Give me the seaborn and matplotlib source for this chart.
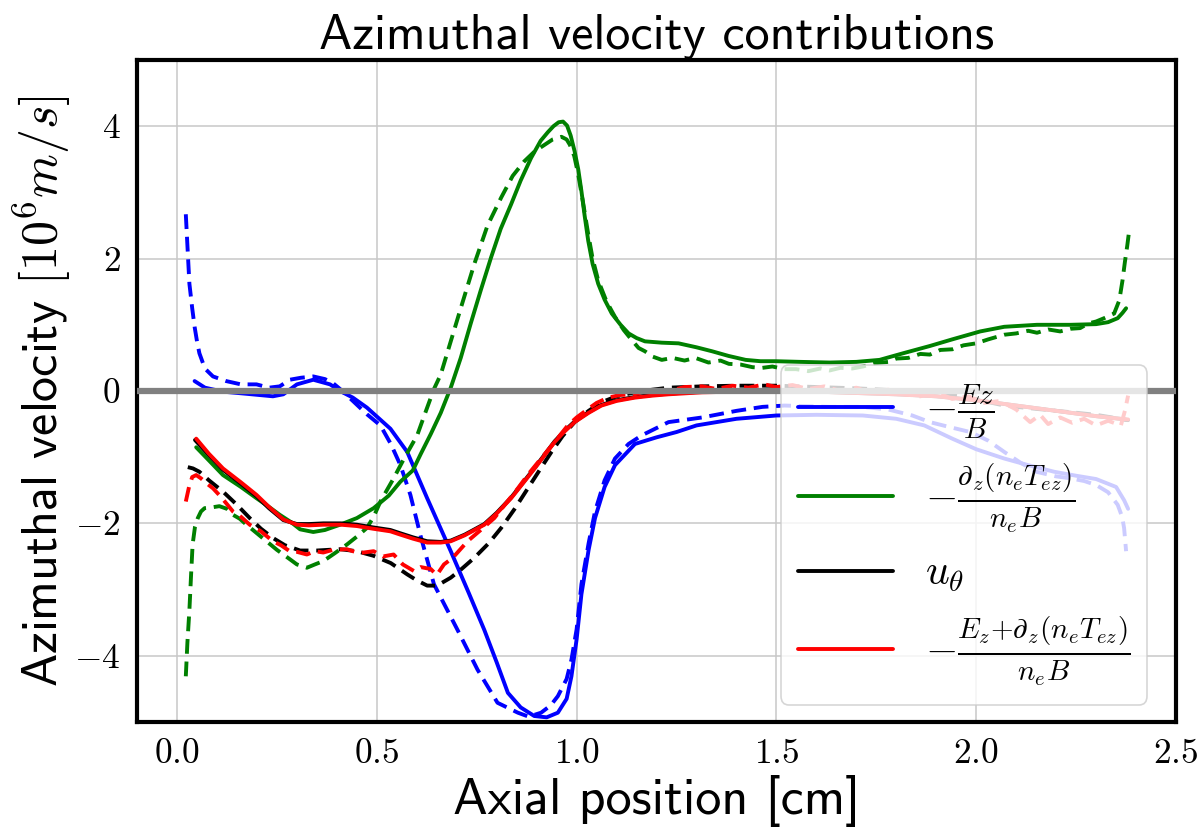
import matplotlib
matplotlib.use("Agg")
import matplotlib.pyplot as plt
from matplotlib.ticker import FuncFormatter
import seaborn as sns
import pandas as pd

# ---- data: azimuthal velocity contributions [1e6 m/s] vs axial position [cm] ----
# -Ez/B (solid)
ez_x = [0.044, 0.07, 0.115, 0.17, 0.24, 0.266, 0.30, 0.341, 0.383, 0.408, 0.44, 0.475, 0.534, 0.576,
        0.626, 0.685, 0.73, 0.769, 0.80, 0.828, 0.86, 0.894, 0.925, 0.953, 0.975, 0.987, 1.0, 1.012,
        1.03, 1.046, 1.07, 1.096, 1.146, 1.20, 1.25, 1.30, 1.40, 1.50, 1.60, 1.716, 1.80, 1.87, 1.94,
        2.00, 2.07, 2.13, 2.195, 2.25, 2.30, 2.35, 2.37, 2.38]
ez_y = [0.15, 0.05, -0.01, -0.04, -0.08, -0.05, 0.10, 0.17, 0.10, 0.0, -0.10, -0.25, -0.57, -0.92,
        -1.62, -2.42, -3.05, -3.61, -4.10, -4.56, -4.78, -4.91, -4.93, -4.86, -4.65, -4.31, -3.75, -3.07,
        -2.40, -1.92, -1.45, -1.12, -0.80, -0.70, -0.62, -0.52, -0.42, -0.37, -0.36, -0.37, -0.42, -0.52,
        -0.72, -0.88, -1.02, -1.12, -1.22, -1.28, -1.33, -1.45, -1.65, -1.78]

# -Ez/B (dashed)
ez_d_x = [0.022, 0.026, 0.031, 0.038, 0.044, 0.05, 0.056, 0.065, 0.073, 0.09, 0.123, 0.16, 0.199, 0.23,
          0.257, 0.282, 0.31, 0.341, 0.37, 0.39, 0.408, 0.44, 0.475, 0.509, 0.535, 0.559, 0.584, 0.61,
          0.643, 0.702, 0.752, 0.802, 0.853, 0.88, 0.911, 0.935, 0.953, 0.975, 0.987, 1.0, 1.012, 1.03,
          1.046, 1.07, 1.096, 1.13, 1.163, 1.23, 1.314, 1.40, 1.465, 1.52, 1.633, 1.716, 1.78, 1.84,
          1.884, 1.93, 1.985, 2.03, 2.07, 2.11, 2.15, 2.20, 2.236, 2.27, 2.30, 2.33, 2.354, 2.365, 2.37,
          2.375]
ez_d_y = [2.67, 2.2, 1.62, 1.25, 0.97, 0.75, 0.57, 0.42, 0.32, 0.22, 0.15, 0.10, 0.10, 0.05,
          0.07, 0.17, 0.20, 0.22, 0.18, 0.12, 0.03, -0.15, -0.35, -0.52, -0.80, -1.12, -1.57, -2.20,
          -2.92, -3.61, -4.21, -4.71, -4.86, -4.92, -4.86, -4.75, -4.61, -4.35, -4.06, -3.60, -2.92, -2.30,
          -1.82, -1.35, -1.02, -0.80, -0.67, -0.47, -0.40, -0.30, -0.24, -0.22, -0.24, -0.24, -0.28, -0.37,
          -0.47, -0.54, -0.62, -0.75, -0.92, -1.08, -1.22, -1.29, -1.32, -1.36, -1.42, -1.53, -1.72, -1.90,
          -2.07, -2.42]

# -d_z(n_e T_ez)/(n_e B) (solid)
pe_x = [0.048, 0.08, 0.115, 0.16, 0.199, 0.23, 0.257, 0.285, 0.308, 0.341, 0.37, 0.408, 0.45, 0.492,
        0.53, 0.559, 0.59, 0.61, 0.635, 0.66, 0.685, 0.71, 0.735, 0.76, 0.786, 0.81, 0.836, 0.86, 0.886,
        0.91, 0.928, 0.942, 0.955, 0.966, 0.976, 0.985, 0.995, 1.004, 1.012, 1.02, 1.029, 1.04, 1.054,
        1.07, 1.088, 1.11, 1.13, 1.15, 1.171, 1.213, 1.255, 1.30, 1.339, 1.38, 1.423, 1.46, 1.498, 1.56,
        1.633, 1.70, 1.758, 1.817, 1.884, 1.94, 2.01, 2.07, 2.152, 2.236, 2.30, 2.33, 2.354, 2.366, 2.375]
pe_y = [-0.85, -1.05, -1.27, -1.45, -1.62, -1.75, -1.87, -1.98, -2.09, -2.13, -2.10, -2.02, -1.92, -1.77,
        -1.58, -1.37, -1.20, -0.95, -0.65, -0.33, 0.05, 0.50, 1.02, 1.52, 2.02, 2.45, 2.82, 3.18, 3.52,
        3.78, 3.91, 4.00, 4.06, 4.07, 4.01, 3.86, 3.62, 3.35, 3.02, 2.65, 2.27, 1.92, 1.62,
        1.38, 1.17, 1.00, 0.87, 0.80, 0.75, 0.73, 0.72, 0.66, 0.60, 0.53, 0.47, 0.45, 0.45, 0.44,
        0.43, 0.44, 0.47, 0.57, 0.68, 0.78, 0.90, 0.97, 1.00, 1.00, 1.01, 1.04, 1.10, 1.18, 1.25]

# -d_z(n_e T_ez)/(n_e B) (dashed)
pe_d_x = [0.022, 0.026, 0.031, 0.035, 0.039, 0.045, 0.052, 0.06, 0.069, 0.085, 0.106, 0.125, 0.14, 0.157,
          0.174, 0.2, 0.224, 0.25, 0.282, 0.30, 0.325, 0.345, 0.366, 0.395, 0.425, 0.45, 0.475, 0.492,
          0.509, 0.525, 0.542, 0.57, 0.601, 0.62, 0.643, 0.66, 0.685, 0.71, 0.744, 0.777, 0.811, 0.84,
          0.869, 0.895, 0.92, 0.94, 0.962, 0.975, 0.983, 0.994, 1.004, 1.016, 1.029, 1.04, 1.054, 1.075,
          1.096, 1.118, 1.138, 1.155, 1.171, 1.19, 1.213, 1.24, 1.27, 1.297, 1.33, 1.36, 1.381, 1.41,
          1.44, 1.465, 1.49, 1.52, 1.549, 1.58, 1.61, 1.633, 1.66, 1.69, 1.716, 1.75, 1.78, 1.80, 1.83,
          1.86, 1.884, 1.91, 1.94, 1.968, 2.0, 2.03, 2.07, 2.10, 2.13, 2.152, 2.18, 2.21, 2.236, 2.26,
          2.28, 2.30, 2.32, 2.345, 2.358, 2.366, 2.372, 2.378, 2.382]
pe_d_y = [-4.31, -3.80, -3.31, -2.80, -2.32, -2.05, -1.92, -1.82, -1.77, -1.76, -1.74, -1.78, -1.87, -1.93,
          -2.02, -2.15, -2.27, -2.40, -2.54, -2.62, -2.67, -2.62, -2.57, -2.45, -2.32, -2.20, -2.07, -1.90,
          -1.67, -1.50, -1.32, -1.00, -0.67, -0.35, 0.03, 0.25, 0.75, 1.25, 1.92, 2.50, 2.92, 3.25,
          3.47, 3.62, 3.72, 3.80, 3.84, 3.80, 3.72, 3.55, 3.27, 2.85, 2.37, 2.00, 1.67, 1.35,
          1.12, 0.92, 0.77, 0.65, 0.60, 0.52, 0.47, 0.50, 0.46, 0.50, 0.43, 0.46, 0.41, 0.40,
          0.36, 0.35, 0.37, 0.33, 0.33, 0.30, 0.34, 0.31, 0.35, 0.34, 0.37, 0.42, 0.44, 0.49, 0.50,
          0.56, 0.55, 0.62, 0.63, 0.69, 0.72, 0.78, 0.85, 0.87, 0.91, 0.88, 0.93, 0.90, 0.94, 0.95,
          1.02, 1.05, 1.10, 1.17, 1.37, 1.67, 1.95, 2.20, 2.39]

# u_theta (solid)
ut_x = [0.045, 0.08, 0.115, 0.16, 0.199, 0.23, 0.266, 0.30, 0.33, 0.366, 0.41, 0.45, 0.49, 0.534,
        0.559, 0.59, 0.626, 0.66, 0.685, 0.72, 0.769, 0.80, 0.836, 0.865, 0.895, 0.92, 0.945, 0.97,
        0.995, 1.03, 1.062, 1.10, 1.146, 1.19, 1.23, 1.314, 1.40, 1.50, 1.60, 1.70, 1.80, 1.90, 2.0,
        2.1, 2.2, 2.3, 2.36, 2.38]
ut_y = [-0.74, -0.97, -1.19, -1.40, -1.59, -1.77, -1.95, -2.01, -2.01, -2.00, -2.00, -2.02, -2.06, -2.10,
        -2.15, -2.21, -2.27, -2.28, -2.26, -2.17, -2.01, -1.84, -1.61, -1.39, -1.16, -0.96, -0.76, -0.60,
        -0.46, -0.32, -0.21, -0.14, -0.09, -0.06, -0.04, -0.01, 0.0, 0.0, -0.01, -0.03, -0.05, -0.08, -0.14,
        -0.22, -0.30, -0.38, -0.42, -0.44]

# u_theta (dashed)
ut_d_x = [0.027, 0.04, 0.056, 0.08, 0.115, 0.15, 0.182, 0.21, 0.24, 0.27, 0.308, 0.35, 0.408, 0.45,
          0.492, 0.535, 0.576, 0.60, 0.626, 0.651, 0.685, 0.71, 0.744, 0.78, 0.811, 0.845, 0.878, 0.91,
          0.937, 0.965, 0.995, 1.03, 1.062, 1.10, 1.146, 1.19, 1.23, 1.314, 1.40, 1.50, 1.60, 1.70, 1.80,
          1.90, 1.98, 2.07, 2.15, 2.236, 2.30, 2.36, 2.38]
ut_d_y = [-1.15, -1.17, -1.22, -1.35, -1.52, -1.72, -1.92, -2.08, -2.22, -2.33, -2.41, -2.41, -2.39, -2.42,
          -2.49, -2.60, -2.77, -2.86, -2.94, -2.94, -2.82, -2.70, -2.52, -2.30, -2.07, -1.78, -1.47, -1.17,
          -0.92, -0.68, -0.47, -0.30, -0.17, -0.08, -0.02, 0.02, 0.05, 0.07, 0.08, 0.08, 0.06, 0.04, 0.01,
          -0.02, -0.10, -0.22, -0.27, -0.32, -0.36, -0.42, -0.44]

# -(Ez + d_z(n_e T_ez))/(n_e B) (solid)
sum_x = [0.048, 0.08, 0.115, 0.16, 0.199, 0.23, 0.266, 0.30, 0.33, 0.366, 0.41, 0.45, 0.49, 0.534,
         0.559, 0.59, 0.626, 0.66, 0.685, 0.72, 0.769, 0.80, 0.836, 0.865, 0.895, 0.92, 0.945, 0.97,
         0.995, 1.03, 1.062, 1.10, 1.146, 1.19, 1.23, 1.314, 1.40, 1.50, 1.60, 1.70, 1.80, 1.90, 2.0,
         2.1, 2.2, 2.3, 2.36, 2.38]
sum_y = [-0.72, -0.95, -1.17, -1.38, -1.57, -1.75, -1.94, -2.02, -2.03, -2.02, -2.02, -2.04, -2.08, -2.12,
         -2.17, -2.23, -2.29, -2.29, -2.27, -2.18, -2.02, -1.85, -1.62, -1.40, -1.17, -0.97, -0.77, -0.61,
         -0.47, -0.33, -0.22, -0.15, -0.10, -0.07, -0.05, -0.02, -0.01, 0.0, -0.01, -0.03, -0.05, -0.08,
         -0.14, -0.22, -0.30, -0.38, -0.42, -0.43]

# -(Ez + d_z(n_e T_ez))/(n_e B) (dashed)
sum_d_x = [0.022, 0.03, 0.038, 0.048, 0.06, 0.075, 0.09, 0.11, 0.14, 0.16, 0.182, 0.21, 0.24, 0.26,
           0.282, 0.30, 0.325, 0.345, 0.366, 0.39, 0.425, 0.455, 0.492, 0.515, 0.542, 0.565, 0.593, 0.61,
           0.635, 0.65, 0.668, 0.69, 0.727, 0.76, 0.794, 0.82, 0.853, 0.88, 0.911, 0.945, 0.978, 1.0,
           1.029, 1.05, 1.079, 1.11, 1.146, 1.18, 1.23, 1.27, 1.314, 1.35, 1.39, 1.43, 1.47, 1.50, 1.54,
           1.58, 1.62, 1.66, 1.70, 1.74, 1.78, 1.82, 1.86, 1.90, 1.94, 1.98, 2.02, 2.06, 2.10, 2.135,
           2.16, 2.18, 2.21, 2.24, 2.27, 2.30, 2.33, 2.362, 2.372, 2.38]
sum_d_y = [-1.67, -1.45, -1.30, -1.27, -1.32, -1.40, -1.47, -1.60, -1.82, -1.90, -2.02, -2.12, -2.27, -2.33,
           -2.42, -2.43, -2.47, -2.42, -2.44, -2.40, -2.39, -2.45, -2.42, -2.50, -2.47, -2.62, -2.72, -2.66,
           -2.69, -2.78, -2.62, -2.52, -2.27, -2.10, -1.92, -1.72, -1.47, -1.25, -1.02, -0.77, -0.52, -0.40,
           -0.27, -0.18, -0.10, -0.06, -0.05, 0.02, 0.0, 0.06, 0.07, 0.03, 0.08, 0.05, 0.10, 0.06, 0.09,
           0.03, 0.07, 0.0, 0.05, -0.04, 0.02, -0.05, -0.08, -0.02, -0.12, -0.08, -0.18, -0.15, -0.28, -0.47,
           -0.36, -0.50, -0.40, -0.48, -0.42, -0.52, -0.45, -0.52, -0.30, -0.07]

x_ticks = [0.0, 0.5, 1.0, 1.5, 2.0, 2.5]
y_ticks = [-4, -2, 0, 2, 4]

legend_labels = [
    r"$-\frac{Ez}{B}$",
    r"$-\frac{\partial_z(n_eT_{ez})}{n_eB}$",
    r"$u_\theta$",
    r"$-\frac{E_z{+}\partial_z(n_eT_{ez})}{n_eB}$",
]

# ---- style ----
sns.set_theme(style="whitegrid")
plt.rcParams.update({
    "mathtext.fontset": "cm",
    "font.family": ["cmss10", "DejaVu Sans"],
    "axes.unicode_minus": False,
    "text.color": "black",
    "axes.labelcolor": "black",
    "xtick.color": "black",
    "ytick.color": "black",
    "grid.color": "#c8c8c8",
    "grid.linewidth": 1.1,
    "axes.edgecolor": "black",
    "axes.linewidth": 3.0,
})

fig = plt.figure(figsize=(11.97, 8.36), dpi=100)
ax = fig.add_axes([0.1145, 0.1364, 0.868, 0.7918])

LW = 2.8
DASH = (3.8, 2.0)

series = [
    (ez_x, ez_y, "blue", "-", legend_labels[0]),
    (ez_d_x, ez_d_y, "blue", "--", None),
    (pe_x, pe_y, "green", "-", legend_labels[1]),
    (pe_d_x, pe_d_y, "green", "--", None),
    (ut_x, ut_y, "black", "-", legend_labels[2]),
    (ut_d_x, ut_d_y, "black", "--", None),
    (sum_x, sum_y, "red", "-", legend_labels[3]),
    (sum_d_x, sum_d_y, "red", "--", None),
]

handles = []
for xs, ys, col, ls, lab in series:
    df = pd.DataFrame({"z": xs, "v": ys})
    sns.lineplot(data=df, x="z", y="v", ax=ax, color=col, linewidth=LW,
                 sort=False, estimator=None, legend=False)
    line = ax.lines[-1]
    if ls == "--":
        line.set_dashes(DASH)
    if lab is not None:
        handles.append((line, lab))

ax.axhline(0, color="gray", linewidth=4.5, zorder=3)

ax.set_xlim(-0.1, 2.5)
ax.set_ylim(-5, 5)
ax.set_xticks(x_ticks)
ax.set_yticks(y_ticks)
ax.xaxis.set_major_formatter(FuncFormatter(lambda v, p: rf"${v:.1f}$"))
ax.yaxis.set_major_formatter(FuncFormatter(lambda v, p: rf"${v:.0f}$"))
ax.tick_params(axis="both", labelsize=25.5, length=6, width=1.2, color="black",
               direction="out", pad=6)
for sp in ax.spines.values():
    sp.set_color("black")
    sp.set_linewidth(3.0)

ax.set_title("Azimuthal velocity contributions", fontsize=36, pad=8)
ax.set_xlabel("Axial position [cm]", fontsize=37.5, labelpad=4)
ax.set_ylabel(r"Azimuthal velocity $[10^6 m/s]$", fontsize=36, labelpad=1)

leg = ax.legend([h for h, _ in handles], [l for _, l in handles],
                loc="lower right", bbox_to_anchor=(0.972, 0.026), borderaxespad=0,
                fontsize=30, handlelength=2.3, handletextpad=0.75, labelspacing=0.5,
                frameon=True, fancybox=True, framealpha=0.8, edgecolor="#cccccc",
                borderpad=0.4)
leg.get_frame().set_linewidth(1.2)

fig.savefig("out.png", dpi=100)
